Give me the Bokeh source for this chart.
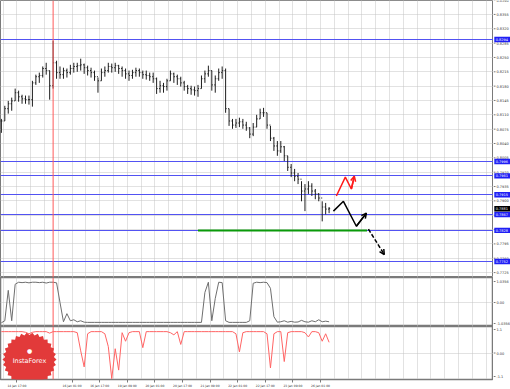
import math
from bokeh.plotting import figure
from bokeh.layouts import column, row
from bokeh.models import (Range1d, FixedTicker, Span, Label, Arrow, OpenHead,
                          PolyAnnotation)
from bokeh.core.properties import value
from bokeh.embed import file_html
from bokeh.resources import INLINE

# ---------------- data (H1 chart, sampled every 2 bars) ----------------
bar_index = list(range(0, 192, 2))
high = [0.8100, 0.8132, 0.8144, 0.8152, 0.8174, 0.8169, 0.8159, 0.8157, 0.8157, 0.8193,
        0.8208, 0.8213, 0.8228, 0.8237, 0.8218, 0.8291, 0.8242, 0.8228, 0.8225, 0.8223,
        0.8232, 0.8237, 0.8237, 0.8247, 0.8235, 0.8230, 0.8225, 0.8218, 0.8201, 0.8223,
        0.8228, 0.8237, 0.8235, 0.8237, 0.8232, 0.8228, 0.8223, 0.8218, 0.8220, 0.8225,
        0.8223, 0.8218, 0.8218, 0.8213, 0.8213, 0.8201, 0.8193, 0.8188, 0.8198, 0.8218,
        0.8213, 0.8208, 0.8203, 0.8193, 0.8183, 0.8181, 0.8179, 0.8183, 0.8206, 0.8218,
        0.8230, 0.8218, 0.8206, 0.8223, 0.8228, 0.8223, 0.8125, 0.8100, 0.8100, 0.8103,
        0.8100, 0.8093, 0.8080, 0.8090, 0.8110, 0.8125, 0.8127, 0.8115, 0.8083, 0.8056,
        0.8046, 0.8046, 0.8034, 0.8010, 0.7990, 0.7978, 0.7968, 0.7948, 0.7941, 0.7948,
        0.7943, 0.7929, 0.7919, 0.7899, 0.7895, 0.7885]
low = [0.8066, 0.8095, 0.8113, 0.8120, 0.8144, 0.8142, 0.8137, 0.8137, 0.8135, 0.8130,
       0.8183, 0.8188, 0.8201, 0.8208, 0.8147, 0.8174, 0.8198, 0.8198, 0.8198, 0.8201,
       0.8208, 0.8213, 0.8215, 0.8218, 0.8210, 0.8206, 0.8201, 0.8193, 0.8164, 0.8193,
       0.8203, 0.8213, 0.8213, 0.8215, 0.8210, 0.8203, 0.8198, 0.8193, 0.8198, 0.8203,
       0.8203, 0.8198, 0.8196, 0.8193, 0.8188, 0.8161, 0.8164, 0.8164, 0.8169, 0.8193,
       0.8188, 0.8183, 0.8179, 0.8169, 0.8161, 0.8159, 0.8157, 0.8154, 0.8174, 0.8188,
       0.8203, 0.8169, 0.8164, 0.8193, 0.8198, 0.8115, 0.8083, 0.8076, 0.8078, 0.8080,
       0.8076, 0.8071, 0.8053, 0.8058, 0.8080, 0.8100, 0.8105, 0.8076, 0.8046, 0.8022,
       0.8010, 0.8017, 0.7997, 0.7973, 0.7958, 0.7948, 0.7941, 0.7899, 0.7875, 0.7917,
       0.7912, 0.7904, 0.7899, 0.7850, 0.7867, 0.7870]
close = [0.8095, 0.8125, 0.8137, 0.8144, 0.8164, 0.8154, 0.8149, 0.8147, 0.8147, 0.8188,
         0.8203, 0.8206, 0.8223, 0.8218, 0.8181, 0.8237, 0.8213, 0.8208, 0.8218, 0.8213,
         0.8223, 0.8228, 0.8230, 0.8232, 0.8225, 0.8218, 0.8213, 0.8203, 0.8193, 0.8213,
         0.8218, 0.8228, 0.8225, 0.8230, 0.8223, 0.8218, 0.8210, 0.8206, 0.8213, 0.8218,
         0.8213, 0.8208, 0.8206, 0.8203, 0.8198, 0.8174, 0.8181, 0.8179, 0.8193, 0.8210,
         0.8203, 0.8198, 0.8188, 0.8179, 0.8174, 0.8171, 0.8169, 0.8174, 0.8198, 0.8210,
         0.8218, 0.8183, 0.8198, 0.8213, 0.8218, 0.8125, 0.8095, 0.8085, 0.8090, 0.8093,
         0.8085, 0.8078, 0.8063, 0.8080, 0.8100, 0.8115, 0.8115, 0.8085, 0.8053, 0.8034,
         0.8022, 0.8032, 0.8010, 0.7982, 0.7968, 0.7960, 0.7953, 0.7924, 0.7929, 0.7936,
         0.7924, 0.7917, 0.7907, 0.7885, 0.7880, 0.7881]

osc1 = [-1.0, -0.9, 0.6, -0.9, 0.9, 1.0, 0.98, 1.0, 0.97, 1.0,
        1.0, 0.98, 1.0, 0.96, 1.0, 1.0, 0.97, 0.0, -0.95, -0.55,
        -0.9, -0.85, -0.95, -0.9, -0.97, -0.98, -0.98, -0.98, -0.98, -0.98,
        -0.98, -0.98, -0.98, -0.98, -0.98, -0.98, -0.98, -0.98, -0.98, -0.98,
        -0.98, -0.98, -0.98, -0.98, -0.98, -0.98, -0.98, -0.98, -0.98, -0.98,
        -0.98, -0.98, -0.98, -0.98, -0.98, -0.98, -0.98, -0.98, -0.98, 0.5,
        1.0, -0.9, 0.2, 1.0, 0.98, -0.9, -0.98, -0.98, -0.98, -0.98,
        -0.98, -0.98, -0.9, 0.95, 1.0, 0.98, 1.0, 0.98, 0.7, -0.7,
        -0.97, -0.95, -0.9, -0.97, -0.93, -0.97, -0.96, -0.88, -0.95, -0.97,
        -0.9, -0.95, -0.85, -0.95, -0.92, -0.95]
osc2 = [1.0, 1.0, 1.0, 1.0, 1.0, 1.0, 1.0, 0.97, 0.9, 0.97,
        1.0, 1.0, 1.0, 1.0, 0.93, 1.0, 1.0, 1.0, 1.0, 1.0,
        1.0, 1.0, 0.95, 0.1, -0.65, 0.9, 1.0, 1.0, 1.0, 1.0,
        0.9, 0.3, -1.2, 0.2, -0.8, 0.95, 0.55, 0.95, 1.0, 1.0,
        1.0, 0.25, 1.0, 1.0, 1.0, 1.0, 1.0, 1.0, 1.0, 0.95,
        0.85, 1.0, 0.4, 1.0, 1.0, 1.0, 1.0, 1.0, 1.0, 1.0,
        1.0, 1.0, 1.0, 1.0, 1.0, 1.0, 1.0, 1.0, 0.9, 0.05,
        0.95, 1.0, 1.0, 1.0, 1.0, 1.0, 1.0, 0.9, -0.7, 0.9,
        1.0, 1.0, -0.4, 0.95, 1.0, 1.0, 1.0, 1.0, 0.95, 0.75,
        1.0, 1.0, 0.95, 0.55, 0.9, 0.5]

level_prices = [0.8294, 0.7996, 0.7961, 0.7915, 0.7867, 0.7828, 0.7752]
current_price = 0.7881
support_price = 0.7828
support_t = [114, 212]
black_path_t = [192.5, 198.3, 205.8, 211.6]
black_path_p = [0.7875, 0.7899, 0.7838, 0.7870]
dash_path_t = [212.8, 222.0]
dash_path_p = [0.7831, 0.7769]
red_path_t = [194.2, 199.4, 202.9, 204.6]
red_path_p = [0.7912, 0.7958, 0.7929, 0.7960]
marker_t = 30

price_ticks = [0.7725, 0.7760, 0.7795, 0.7830, 0.7865, 0.7900, 0.7935, 0.7970,
               0.8005, 0.8040, 0.8075, 0.8110, 0.8145, 0.8180, 0.8215, 0.8250,
               0.8285, 0.8320, 0.8355, 0.8390]
time_ticks = [9, 41, 57, 73, 89, 105, 121, 137, 153, 169, 185]
time_labels = ["14 Jan 17:00", "16 Jan 01:00", "16 Jan 17:00", "19 Jan 09:00",
               "20 Jan 01:00", "20 Jan 17:00", "21 Jan 09:00", "22 Jan 01:00",
               "22 Jan 17:00", "23 Jan 09:00", "26 Jan 01:00"]
osc1_ticks = [1.0356, 0.0, -1.0356]
osc1_labels = ["1.0356", "0.00", "-1.0356"]
osc2_ticks = [1.1, 0.0, -1.1]
osc2_labels = ["1.1", "0.00", "-1.1"]

# ---------------- styling ----------------
FONT = "DejaVu Sans"
GRID = "#c4c4c4"
AXC = "#7a7a7a"
FRAME_W = 493
SIDE_W = 17
xr = Range1d(-0.5, 285.3)
vgrid = list(range(1, 290, 8))
common = dict(output_backend="svg", toolbar_location=None, min_border=0)


def style_main(fig, yticks):
    fig.outline_line_color = AXC
    fig.outline_line_width = 1
    fig.xgrid.ticker = FixedTicker(ticks=vgrid)
    fig.ygrid.ticker = FixedTicker(ticks=yticks)
    fig.grid.grid_line_color = GRID
    fig.grid.grid_line_dash = "1 1"
    fig.add_layout(Span(location=marker_t, dimension="height",
                        line_color="#ff5a5a", line_width=1))


def side_scale(yrange, h, ticks, labels):
    s = figure(frame_width=SIDE_W, frame_height=h, x_range=Range1d(0, SIDE_W),
               y_range=yrange, x_axis_location=None, y_axis_location=None, **common)
    s.outline_line_color = None
    s.grid.visible = False
    s.segment(x0=0, x1=2, y0=ticks, y1=ticks, line_color=AXC, line_width=1)
    s.text(x=3, y=ticks, text=labels, text_font_size="3.5px",
           text_font=value(FONT), text_color="#333333", text_baseline="middle")
    return s


# ---------------- main price panel ----------------
p = figure(frame_width=FRAME_W, frame_height=277, x_range=xr,
           y_range=Range1d(0.7713, 0.8389), x_axis_location=None,
           y_axis_location=None, **common)
style_main(p, price_ticks)

p.hspan(y=level_prices, line_color="#5252f2", line_width=1)

opens = [close[0]] + close[:-1]
bar_col = "#1e1e1e"
p.segment(x0=bar_index, y0=low, x1=bar_index, y1=high, line_color=bar_col, line_width=1)
p.segment(x0=bar_index, y0=close, x1=[b + 0.6 for b in bar_index], y1=close,
          line_color=bar_col, line_width=1)
p.segment(x0=[b - 0.6 for b in bar_index], y0=opens, x1=bar_index, y1=opens,
          line_color=bar_col, line_width=1)

p.line(support_t, [support_price, support_price], line_color="#0a9a0a", line_width=2)

p.line(black_path_t, black_path_p, line_color="black", line_width=1.5)
p.add_layout(Arrow(end=OpenHead(size=5, line_color="black", line_width=1.5),
                   x_start=black_path_t[-2], y_start=black_path_p[-2],
                   x_end=black_path_t[-1], y_end=black_path_p[-1],
                   line_color="black", line_width=1.5))
p.add_layout(Arrow(end=OpenHead(size=5, line_color="black", line_width=1.5),
                   x_start=dash_path_t[0], y_start=dash_path_p[0],
                   x_end=dash_path_t[1], y_end=dash_path_p[1],
                   line_color="black", line_width=1.5, line_dash="4 2"))
p.line(red_path_t, red_path_p, line_color="#ff1a1a", line_width=1.5)
p.add_layout(Arrow(end=OpenHead(size=5, line_color="#ff1a1a", line_width=1.5),
                   x_start=red_path_t[-2], y_start=red_path_p[-2],
                   x_end=red_path_t[-1], y_end=red_path_p[-1],
                   line_color="#ff1a1a", line_width=1.5))

# price scale with level tags
s = side_scale(p.y_range, 277, price_ticks, ["%.4f" % t for t in price_ticks])
half = 0.00067
s.quad(left=0.8, right=16.8, bottom=[v - half for v in level_prices],
       top=[v + half for v in level_prices], fill_color="#1f1ff5", line_color=None)
s.quad(left=0.8, right=16.8, bottom=[current_price - half], top=[current_price + half],
       fill_color="#000000", line_color=None)
tag_vals = level_prices + [current_price]
s.text(x=2.2, y=tag_vals, text=["%.4f" % v for v in tag_vals], text_font_size="3.5px",
       text_font=value(FONT), text_color="white", text_baseline="middle")

# ---------------- oscillator 1 ----------------
p1 = figure(frame_width=FRAME_W, frame_height=49, x_range=xr,
            y_range=Range1d(-1.183, 1.233), x_axis_location=None,
            y_axis_location=None, **common)
style_main(p1, [0])
p1.outline_line_width = 1.5
p1.line(bar_index, osc1, line_color="#6e6e6e", line_width=1)
s1 = side_scale(p1.y_range, 49, osc1_ticks, osc1_labels)

# ---------------- oscillator 2 ----------------
p2 = figure(frame_width=FRAME_W, frame_height=53, x_range=xr,
            y_range=Range1d(-1.24, 1.24), x_axis_location="below",
            y_axis_location=None, **common)
style_main(p2, [0])
p2.outline_line_width = 1.5
p2.line(bar_index, osc2, line_color="#ff6464", line_width=1)


def style_xaxis(xa, ticks, overrides):
    xa.ticker = FixedTicker(ticks=ticks)
    xa.major_label_overrides = overrides
    xa.major_label_text_font_size = "3px"
    xa.major_label_text_font = FONT
    xa.major_label_text_color = "#333333"
    xa.major_label_text_align = "left"
    xa.major_tick_out = 3
    xa.major_tick_in = 0
    xa.minor_tick_out = 0
    xa.minor_tick_in = 0
    xa.major_label_standoff = 1
    xa.axis_line_color = AXC
    xa.major_tick_line_color = AXC


style_xaxis(p2.xaxis[0], time_ticks, dict(zip(time_ticks, time_labels)))

s2 = side_scale(p2.y_range, 53, osc2_ticks, osc2_labels)
s2.add_layout(s2.xaxis[0].__class__(), "below") if False else None
from bokeh.models import LinearAxis
ax_pad = LinearAxis()
style_xaxis(ax_pad, [8.5], {8.5: " "})
ax_pad.axis_line_color = None
ax_pad.major_tick_line_color = None
s2.add_layout(ax_pad, "below")

# logo (decorative gear badge)
cx, cy, n = 29, 20, 30
gx, gy = [], []
for k in range(2 * n):
    r = 27 if k % 2 == 0 else 24.5
    a = math.pi * k / n
    gx.append(cx + r * math.cos(a))
    gy.append(cy + r * math.sin(a))
p2.add_layout(PolyAnnotation(xs=gx, ys=gy, xs_units="screen", ys_units="screen",
                             fill_color="#e23a3a", fill_alpha=1, line_alpha=0,
                             level="overlay"))
p2.add_layout(Label(x=cx, y=cy - 5, x_units="screen", y_units="screen",
                    text="InstaForex", text_font_size="6.5px", text_font=FONT,
                    text_color="white", text_align="center", level="overlay"))
p2.add_layout(Label(x=cx, y=cy + 6, x_units="screen", y_units="screen",
                    text="●", text_font_size="6px", text_font=FONT,
                    text_color="white", text_align="center", level="overlay"))

layout = row(column(p, p1, p2, spacing=0), column(s, s1, s2, spacing=0), spacing=0)
open("out.html", "w").write(file_html(layout, INLINE))
